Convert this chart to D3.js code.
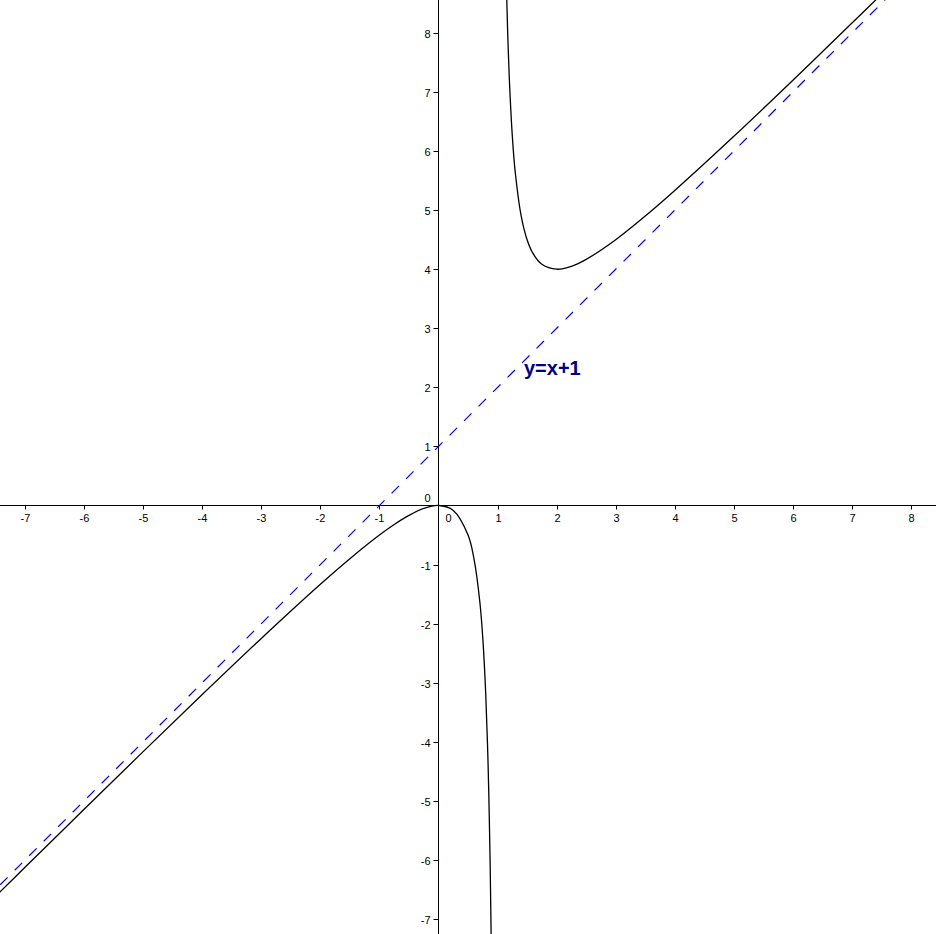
<!DOCTYPE html>
<html>
<head>
<meta charset="utf-8">
<script src="https://cdn.jsdelivr.net/npm/d3@7"></script>
<style>
  html, body { margin: 0; padding: 0; background: #fff; }
  svg { display: block; }
  text { font-family: "Liberation Sans", Arial, sans-serif; }
</style>
</head>
<body>
<div id="chart"></div>
<script>
// points, left branch (x < 1)
const leftX = [-7.5, -7, -6, -5, -4, -3, -2, -1.5, -1, -0.75, -0.5, -0.25, 0, 0.25, 0.5, 0.6, 0.7, 0.75, 0.8, 0.83, 0.85, 0.87, 0.88, 0.89, 0.895];
const leftY = [-6.618, -6.125, -5.143, -4.167, -3.2, -2.25, -1.333, -0.9, -0.5, -0.321, -0.167, -0.05, 0, -0.083, -0.5, -0.9, -1.633, -2.25, -3.2, -4.052, -4.817, -5.822, -6.453, -7.2, -7.629];

// right branch (x > 1)
const rightX = [1.145, 1.157, 1.17, 1.18, 1.2, 1.25, 1.3, 1.4, 1.5, 1.6, 1.75, 2, 2.25, 2.5, 3, 3.5, 4, 5, 6, 7, 7.5];
const rightY = [9.041, 8.526, 8.052, 7.736, 7.2, 6.25, 5.633, 4.9, 4.5, 4.267, 4.083, 4, 4.05, 4.167, 4.5, 4.9, 5.333, 6.25, 7.2, 8.167, 8.654];

// oblique asymptote y = x + 1, end points
const asymX = [-7.42, 8.43];
const asymY = [-6.42, 9.43];

const xTicks = [-7, -6, -5, -4, -3, -2, -1, 1, 2, 3, 4, 5, 6, 7, 8];
const yTicks = [-7, -6, -5, -4, -3, -2, -1, 1, 2, 3, 4, 5, 6, 7, 8];
const asymLabel = "y=x+1";

const width = 936,
      height = 934,
      unit = 59.07,
      ox = 438.5,
      oy = 505.5;

const x = d3.scaleLinear()
    .domain([-ox / unit, (width - ox) / unit])
    .range([0, width]);

const y = d3.scaleLinear()
    .domain([(oy - height) / unit, oy / unit])
    .range([height, 0]);

const svg = d3.select("#chart").append("svg")
    .attr("width", width)
    .attr("height", height)
    .attr("viewBox", `0 0 ${width} ${height}`);

// axes
svg.append("line")
    .attr("x1", 0).attr("x2", width)
    .attr("y1", y(0)).attr("y2", y(0))
    .attr("stroke", "#000").attr("stroke-width", 1);

svg.append("line")
    .attr("x1", x(0)).attr("x2", x(0))
    .attr("y1", 0).attr("y2", height)
    .attr("stroke", "#000").attr("stroke-width", 1);

// x ticks + labels
const xg = svg.append("g");
xg.selectAll("line")
    .data(xTicks)
    .join("line")
    .attr("x1", d => Math.round(x(d)) + 0.5)
    .attr("x2", d => Math.round(x(d)) + 0.5)
    .attr("y1", y(0)).attr("y2", y(0) + 4)
    .attr("stroke", "#000");
xg.selectAll("text")
    .data(xTicks)
    .join("text")
    .attr("x", d => Math.round(x(d)) + 0.5)
    .attr("y", y(0) + 16.5)
    .attr("text-anchor", "middle")
    .style("font-size", "11px")
    .text(d => d);

// y ticks + labels
const yg = svg.append("g");
yg.selectAll("line")
    .data(yTicks)
    .join("line")
    .attr("x1", x(0) - 5).attr("x2", x(0))
    .attr("y1", d => Math.round(y(d)) + 0.5)
    .attr("y2", d => Math.round(y(d)) + 0.5)
    .attr("stroke", "#000");
yg.selectAll("text")
    .data(yTicks)
    .join("text")
    .attr("x", x(0) - 8)
    .attr("y", d => Math.round(y(d)) + 4.5)
    .attr("text-anchor", "end")
    .style("font-size", "11px")
    .text(d => d);

// the two zero labels
svg.append("text")
    .attr("x", x(0) + 10).attr("y", y(0) + 16.5)
    .attr("text-anchor", "middle")
    .style("font-size", "11px")
    .text("0");
svg.append("text")
    .attr("x", x(0) - 8).attr("y", y(0) - 3.5)
    .attr("text-anchor", "end")
    .style("font-size", "11px")
    .text("0");

// asymptote
svg.append("line")
    .attr("x1", x(asymX[0])).attr("y1", y(asymY[0]))
    .attr("x2", x(asymX[1])).attr("y2", y(asymY[1]))
    .attr("stroke", "#0000ff")
    .attr("stroke-width", 1.2)
    .attr("stroke-dasharray", "10.5,10");

svg.append("text")
    .attr("x", 524).attr("y", 375)
    .attr("fill", "#00007f")
    .style("font-size", "20px")
    .style("font-weight", "bold")
    .text(asymLabel);

// curve branches
const line = d3.line()
    .x(d => x(d[0]))
    .y(d => y(d[1]))
    .curve(d3.curveCatmullRom.alpha(0.5));

[[leftX, leftY], [rightX, rightY]].forEach(([xs, ys]) => {
    svg.append("path")
        .datum(xs.map((v, i) => [v, ys[i]]))
        .attr("fill", "none")
        .attr("stroke", "#000")
        .attr("stroke-width", 1.3)
        .attr("d", line);
});
</script>
</body>
</html>
